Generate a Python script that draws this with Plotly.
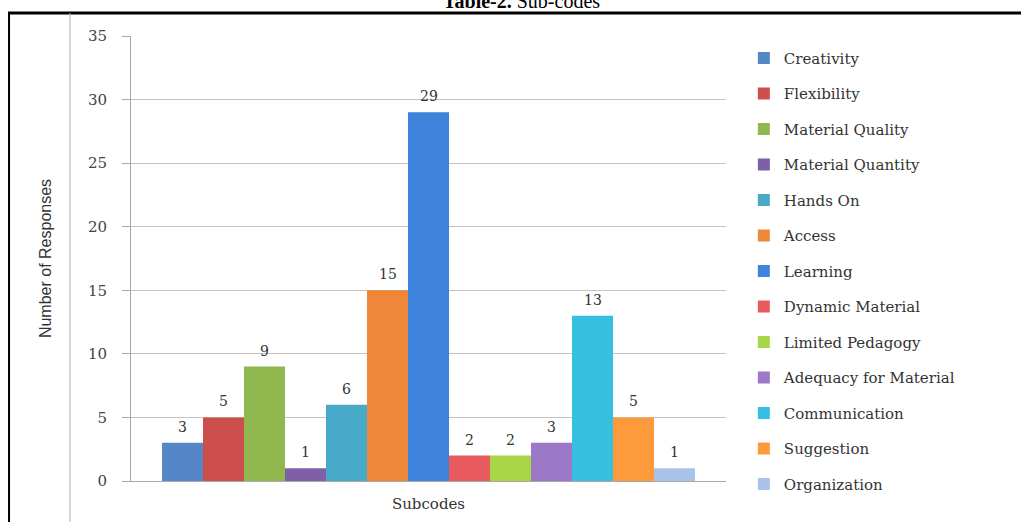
import plotly.graph_objects as go

# Sub-code response counts
subcodes = [
    "Creativity", "Flexibility", "Material Quality", "Material Quantity",
    "Hands On", "Access", "Learning", "Dynamic Material", "Limited Pedagogy",
    "Adequacy for Material", "Communication", "Suggestion", "Organization",
]
responses = [3, 5, 9, 1, 6, 15, 29, 2, 2, 3, 13, 5, 1]
bar_colors = [
    "#5586c8", "#cc4f4e", "#8fb84e", "#7f5fa8", "#48a8c8", "#ee8838",
    "#3f84dc", "#e95a5e", "#a9d648", "#9b78c8", "#35bfe0", "#fd9a3c", "#a9c3e6",
]
y_ticks = [0, 5, 10, 15, 20, 25, 30, 35]

serif = "DejaVu Serif"
positions = list(range(len(subcodes)))

fig = go.Figure()
for pos, name, val, col in zip(positions, subcodes, responses, bar_colors):
    fig.add_trace(go.Bar(
        x=[pos], y=[val], name=name, legendgroup=name, width=1,
        marker=dict(color=col, line=dict(width=0)),
        hoverinfo="name+y",
    ))
    # value label above each bar
    fig.add_annotation(
        x=pos, y=val, yanchor="bottom", yshift=6, showarrow=False,
        text=str(val), font=dict(family=serif, size=14, color="#333333"),
    )

fig.update_layout(
    width=1021, height=522,
    margin=dict(l=131, r=295, t=36, b=41),
    paper_bgcolor="white", plot_bgcolor="white",
    barmode="overlay",
    showlegend=True,
    legend=dict(
        x=1.03, xanchor="left", y=0.987, yanchor="top",
        font=dict(family=serif, size=15, color="#333333"),
        tracegroupgap=13, itemclick=False, maxheight=520,
        bgcolor="rgba(0,0,0,0)",
    ),
    xaxis=dict(
        range=[-1.256, 13.256],
        showticklabels=False, showgrid=False, zeroline=False,
        showline=True, linecolor="#a8a8a8", linewidth=1,
        title=dict(text="Subcodes", font=dict(family=serif, size=15, color="#333333"), standoff=17),
        automargin=False,
    ),
    yaxis=dict(
        range=[0, 35], tickvals=y_ticks,
        ticks="outside", ticklen=8, tickcolor="#a8a8a8",
        showline=True, linecolor="#a8a8a8", linewidth=1,
        showgrid=True, gridcolor="#c4c4c4", gridwidth=1,
        tickfont=dict(family=serif, size=15, color="#444444"),
        ticklabelstandoff=12,
        title=dict(text="Number of Responses",
                   font=dict(family="Liberation Sans Narrow, Liberation Sans", size=16, color="#333333"),
                   standoff=32),
        automargin=False, zeroline=False,
    ),
)

# Page framing: caption, rules and panel edge
fig.add_annotation(
    xref="paper", yref="paper", x=0.657, y=1.0, yshift=22, yanchor="bottom",
    text="<b>Table-2.</b> Sub-codes", showarrow=False,
    font=dict(family="Liberation Serif", size=20, color="black"),
)
fig.add_shape(type="line", xref="paper", yref="paper", x0=-0.2067, x1=1.5, y0=1.0517, y1=1.0517,
              line=dict(color="black", width=3), layer="above")
fig.add_shape(type="line", xref="paper", yref="paper", x0=-0.2050, x1=-0.2050, y0=1.0517, y1=-0.1,
              line=dict(color="black", width=2), layer="above")
fig.add_shape(type="line", xref="paper", yref="paper", x0=-0.1025, x1=-0.1025, y0=1.0517, y1=-0.1,
              line=dict(color="#b0b0b0", width=1), layer="above")

fig.write_html("out.html")
